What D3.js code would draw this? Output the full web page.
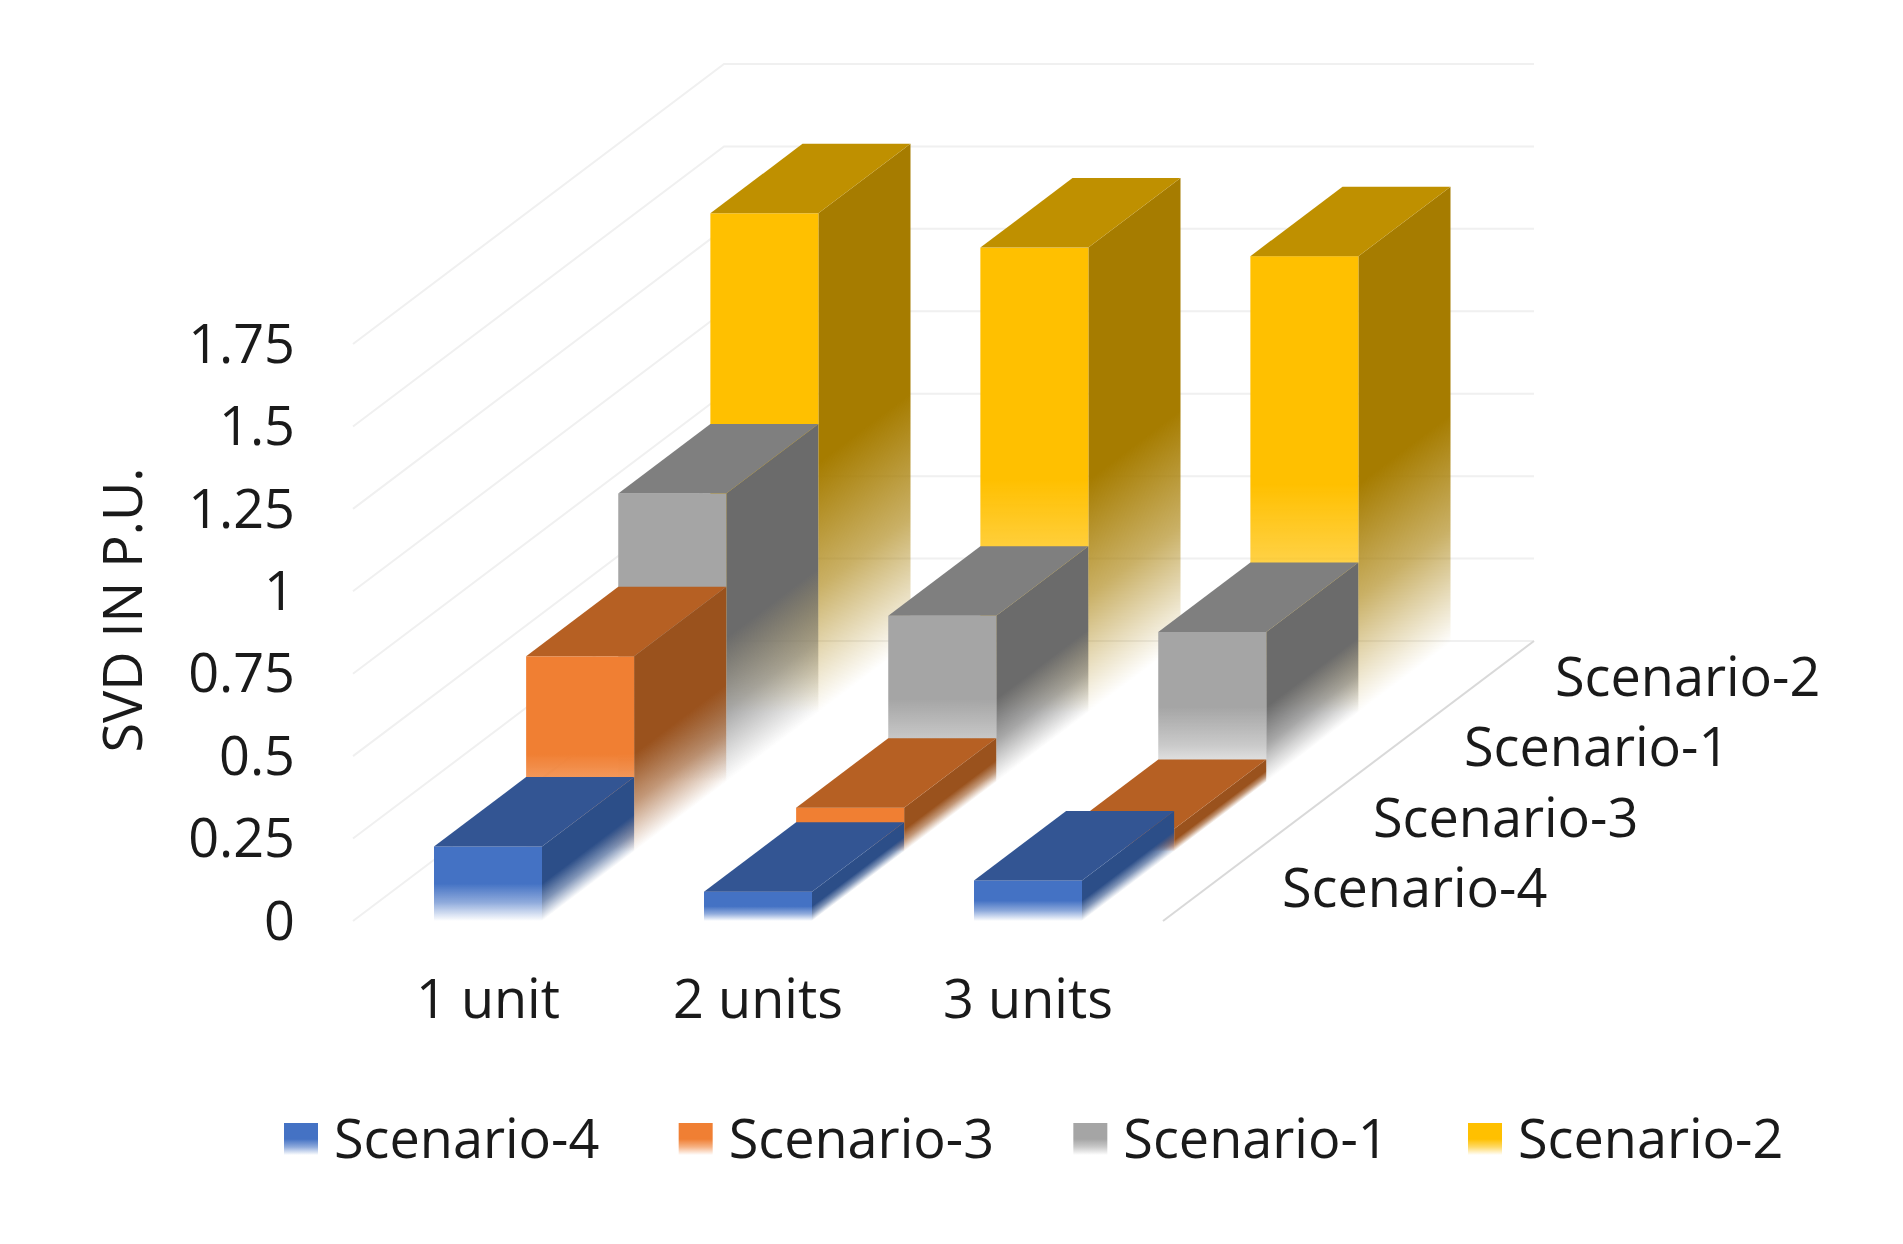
<!DOCTYPE html>
<html><head><meta charset="utf-8">
<script src="https://d3js.org/d3.v7.min.js"></script>
<style>
html,body{margin:0;padding:0;background:#fff}
svg{display:block;filter:blur(0.7px)}
text{font-family:"Open Sans",sans-serif;fill:#1a1a1a}
</style></head><body>
<script>
const categories = ["1 unit","2 units","3 units"];
const seriesNames = ["Scenario-4","Scenario-3","Scenario-1","Scenario-2"];
const legendOrder = ["Scenario-4","Scenario-3","Scenario-1","Scenario-2"];
const scenario4 = [0.226,0.089,0.123];
const scenario3 = [0.592,0.133,0.068];
const scenario1 = [0.875,0.504,0.455];
const scenario2 = [1.514,1.41,1.384];
const seriesValues = [scenario4,scenario3,scenario1,scenario2];
const yTicks = [0,0.25,0.5,0.75,1,1.25,1.5,1.75];
const yTitle = "SVD IN P.U.";

const frontColors = ["#4472C4","#F07F33","#A5A5A5","#FFC000"];
const topColors   = ["#335593","#B66023","#7F7F7F","#BF9000"];
const sideColors  = ["#2C4E88","#9A521D","#6B6B6B","#A67C00"];

const W=1903,H=1244;
const FS=54;
const wallX=371, wallY=280;      // floor depth at the walls
const barX=368.5, barY=278;      // depth travelled by the bar rows
const svg=d3.select("body").append("svg").attr("width",W).attr("height",H);
const defs=svg.append("defs");
function fade(id,c){
  const g=defs.append("linearGradient").attr("id",id).attr("x1",0).attr("y1",0).attr("x2",0).attr("y2",1);
  g.append("stop").attr("offset","0%").attr("stop-color",c);
  g.append("stop").attr("offset","50%").attr("stop-color",c);
  g.append("stop").attr("offset","75%").attr("stop-color",c).attr("stop-opacity",0.6);
  g.append("stop").attr("offset","100%").attr("stop-color",c).attr("stop-opacity",0);
}
frontColors.forEach((c,i)=>fade("front"+i,c));
sideColors.forEach((c,i)=>fade("side"+i,c));

const x=d3.scaleBand(categories,[353,1163]).paddingInner(0.6).paddingOuter(0.3);
const y=d3.scaleLinear([0,1.75],[921,344]);
const z=d3.scaleLinear([0,seriesNames.length],[0,1]);
const zx=d=>barX*z(d), zy=d=>barY*z(d);

// gridlines
const grid=svg.append("g").attr("fill","none").attr("stroke","#F0F0F0").attr("stroke-width",2);
grid.selectAll("path").data(yTicks).join("path")
  .attr("d",t=>d3.line()([[x.range()[0],y(t)],[x.range()[0]+wallX,y(t)-wallY],[x.range()[1]+wallX,y(t)-wallY]]));
svg.append("line").attr("x1",x.range()[1]).attr("y1",y(0)).attr("x2",x.range()[1]+wallX).attr("y2",y(0)-wallY)
  .attr("stroke","#D9D9D9").attr("stroke-width",2);

// bars, back to front
const bw=x.bandwidth(), ddx=zx(1), ddy=zy(1);
d3.range(seriesNames.length-1,-1,-1).forEach(s=>{
  const g=svg.append("g").attr("class","series");
  categories.forEach((c,i)=>{
    const v=seriesValues[s][i];
    const fx=x(c)+zx(s), base=y(0)-zy(s), top=base-(y(0)-y(v));
    const h=base-top;
    g.append("rect").attr("width",ddx).attr("height",h)
      .attr("transform",`matrix(1,${-ddy/ddx},0,1,${fx+bw},${top})`)
      .attr("fill",`url(#side${s})`);
    g.append("rect").attr("x",fx).attr("y",top).attr("width",bw).attr("height",h)
      .attr("fill",`url(#front${s})`);
    g.append("path").attr("fill",topColors[s])
      .attr("d",d3.line()([[fx,top],[fx+ddx,top-ddy],[fx+ddx+bw,top-ddy],[fx+bw,top]])+"Z");
  });
});

// y axis
const yAxis=svg.append("g").attr("transform","translate(295,1)")
  .call(d3.axisLeft(y).tickValues(yTicks).tickSize(0).tickPadding(0).tickFormat(String));
yAxis.select(".domain").remove();
yAxis.selectAll("text").attr("font-size",FS).attr("font-family",'"Open Sans",sans-serif').attr("fill","#1a1a1a");

// y title
svg.append("text").attr("transform","translate(121,610) rotate(-90)")
  .attr("text-anchor","middle").attr("dominant-baseline","central").attr("font-size",FS).text(yTitle);

// category labels
svg.selectAll("text.cat").data(categories).join("text").attr("class","cat")
  .attr("x",c=>x(c)+bw/2).attr("y",997).attr("text-anchor","middle").attr("dominant-baseline","central")
  .attr("font-size",FS).text(c=>c);

// series labels
const serX=d3.scaleLinear([0,3],[1282,1555]), serY=d3.scaleLinear([0,3],[886,675]);
svg.selectAll("text.ser").data(seriesNames).join("text").attr("class","ser")
  .attr("x",(d,i)=>serX(i)).attr("y",(d,i)=>serY(i))
  .attr("dominant-baseline","central").attr("font-size",FS).text(d=>d);

// legend
const legX=d3.scalePoint(legendOrder,[284,1468]);
const leg=svg.selectAll("g.leg").data(legendOrder).join("g").attr("class","leg")
  .attr("transform",d=>`translate(${legX(d)},1123)`);
leg.append("rect").attr("width",34).attr("height",32)
  .attr("fill",d=>`url(#front${seriesNames.indexOf(d)})`);
leg.append("text").attr("x",50).attr("y",14).attr("dominant-baseline","central")
  .attr("font-size",FS).text(d=>d);
</script>
</body></html>
